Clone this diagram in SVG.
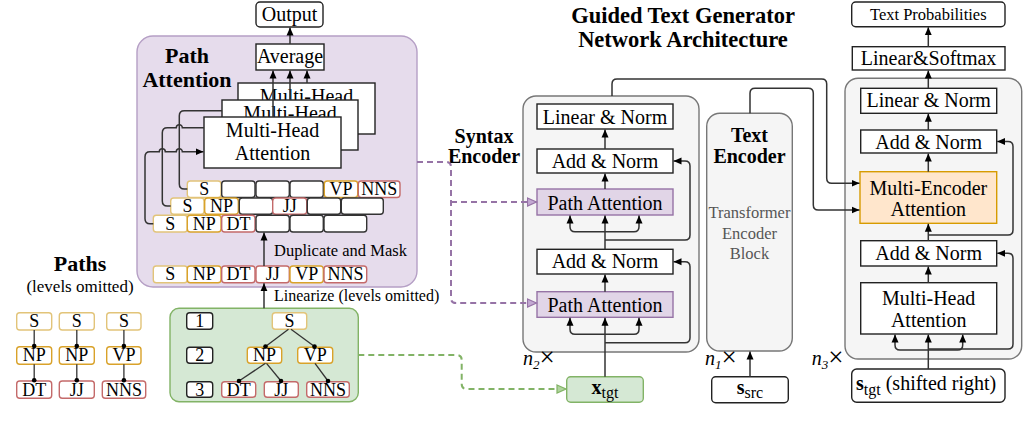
<svg xmlns="http://www.w3.org/2000/svg" width="1024" height="438" viewBox="0 0 1024 438">
<style>
text{font-family:"Liberation Serif","Times New Roman",serif;fill:#000}
.t{font-size:20px;text-anchor:middle}
.tk{font-size:18px;text-anchor:middle}
.sm{font-size:16.5px}
.b{font-weight:bold}
.wb{fill:#fff;stroke:#222;stroke-width:1.4}
.yS{fill:#fff;stroke:#e2c479;stroke-width:1.4}
.yN{fill:#fff;stroke:#d9a22a;stroke-width:1.4}
.rd{fill:#fff;stroke:#c46a6a;stroke-width:1.4}
.bl{fill:#fff;stroke:#333;stroke-width:1.4}
.pu{fill:#e1d5e7;stroke:#9673a6;stroke-width:1.4}
.gr{fill:#f5f5f5;stroke:#777;stroke-width:1.4}
.gn{fill:#d5e8d4;stroke:#82b366;stroke-width:1.4}
.or{fill:#ffe6cc;stroke:#d79b00;stroke-width:1.4}
.ln{fill:none;stroke:#333;stroke-width:1.5}
.la{fill:none;stroke:#333;stroke-width:1.5;marker-end:url(#ah)}
.ld{fill:none;stroke:#333;stroke-width:1.3;marker-end:url(#dot)}
.dp{fill:none;stroke:#9673a6;stroke-width:2;stroke-dasharray:6 4;marker-end:url(#ap)}
.dg{fill:none;stroke:#82b366;stroke-width:2;stroke-dasharray:6 4;marker-end:url(#ag)}
</style>
<defs>
<marker id="ah" markerUnits="userSpaceOnUse" markerWidth="9" markerHeight="8" refX="8" refY="4" orient="auto"><path d="M0,0.5 L8,4 L0,7.5 z" fill="#000"/></marker>
<marker id="ap" markerUnits="userSpaceOnUse" markerWidth="11" markerHeight="10" refX="10" refY="5" orient="auto"><path d="M1,1 L10,5 L1,9 z" fill="#c3a9d2" stroke="#9673a6" stroke-width="1.2"/></marker>
<marker id="ag" markerUnits="userSpaceOnUse" markerWidth="11" markerHeight="10" refX="10" refY="5" orient="auto"><path d="M1,1 L10,5 L1,9 z" fill="#b0d49e" stroke="#82b366" stroke-width="1.2"/></marker>
<marker id="dot" markerUnits="userSpaceOnUse" markerWidth="6" markerHeight="6" refX="3" refY="3"><circle cx="3" cy="3" r="2.3" fill="#000"/></marker>
</defs>

<!-- titles -->
<g id="title">
<text x="683" y="23" class="b" font-size="22.5" text-anchor="middle">Guided Text Generator</text>
<text x="683" y="47" class="b" font-size="22.5" text-anchor="middle">Network Architecture</text>
</g>

<!-- Path attention panel -->
<g id="path-attention">
<rect x="137" y="36" width="280" height="251" rx="16" fill="#e6dcec" stroke="#b59fc5" stroke-width="1.4"/>
<text x="187" y="63" class="b" font-size="22" text-anchor="middle">Path</text>
<text x="187" y="87" class="b" font-size="22" text-anchor="middle">Attention</text>
</g>
<g id="output"><rect x="256" y="2" width="67" height="25" rx="4" class="wb"/><text x="289.5" y="21" class="t">Output</text></g>
<g id="average"><rect x="256" y="44" width="68" height="26" class="wb"/><text x="290" y="63" class="t">Average</text></g>
<g id="mh-back"><rect x="238" y="83" width="137" height="51" class="wb"/><text x="306.5" y="103" class="t">Multi-Head</text></g>
<g id="mh-mid"><rect x="222" y="100" width="136" height="50" class="wb"/><text x="290" y="120" class="t">Multi-Head</text></g>
<g id="mh-front"><rect x="204" y="117" width="137" height="51" class="wb"/><text x="272.5" y="137" class="t">Multi-Head</text><text x="272.5" y="160" class="t">Attention</text></g>

<g id="row1">
<rect x="187.3" y="181" width="33.7" height="16.5" rx="3" class="yS"/><text x="204.2" y="195" class="tk">S</text>
<rect x="221.7" y="181" width="33.3" height="16.5" rx="3" class="bl"/>
<rect x="256" y="181" width="33.3" height="16.5" rx="3" class="bl"/>
<rect x="290" y="181" width="33.3" height="16.5" rx="3" class="bl"/>
<rect x="324.3" y="181" width="33.4" height="16.5" rx="3" class="yN"/><text x="341" y="195" class="tk">VP</text>
<rect x="358.3" y="181" width="41.7" height="16.5" rx="3" class="rd"/><text x="379.2" y="195" class="tk">NNS</text>
</g>
<g id="row2">
<rect x="170.7" y="198" width="33.3" height="16.3" rx="3" class="yS"/><text x="187.4" y="212" class="tk">S</text>
<rect x="204.7" y="198" width="33.6" height="16.3" rx="3" class="yN"/><text x="221.5" y="212" class="tk">NP</text>
<rect x="239.3" y="198" width="33.4" height="16.3" rx="3" class="bl"/>
<rect x="272.7" y="198" width="34" height="16.3" rx="3" class="rd"/><text x="289.7" y="212" class="tk">JJ</text>
<rect x="307.3" y="198" width="33.4" height="16.3" rx="3" class="bl"/>
<rect x="341.3" y="198" width="42" height="16.3" rx="3" class="bl"/>
</g>
<g id="row3">
<rect x="153.3" y="215.3" width="34" height="16.7" rx="3" class="yS"/><text x="170.3" y="229.5" class="tk">S</text>
<rect x="187.3" y="215.3" width="33.7" height="16.7" rx="3" class="yN"/><text x="204.2" y="229.5" class="tk">NP</text>
<rect x="221.7" y="215.3" width="33.3" height="16.7" rx="3" class="rd"/><text x="238.4" y="229.5" class="tk">DT</text>
<rect x="256" y="215.3" width="33.3" height="16.7" rx="3" class="bl"/>
<rect x="290" y="215.3" width="33.3" height="16.7" rx="3" class="bl"/>
<rect x="324" y="215.3" width="42.7" height="16.7" rx="3" class="bl"/>
</g>
<g id="linear-row">
<rect x="153.3" y="266" width="34" height="16.7" rx="3" class="yS"/><text x="170.3" y="280" class="tk">S</text>
<rect x="187.3" y="266" width="33.7" height="16.7" rx="3" class="yN"/><text x="204.2" y="280" class="tk">NP</text>
<rect x="221.7" y="266" width="33.3" height="16.7" rx="3" class="rd"/><text x="238.4" y="280" class="tk">DT</text>
<rect x="256" y="266" width="33.3" height="16.7" rx="3" class="rd"/><text x="272.7" y="280" class="tk">JJ</text>
<rect x="290" y="266" width="33.3" height="16.7" rx="3" class="yN"/><text x="306.7" y="280" class="tk">VP</text>
<rect x="324" y="266" width="42.7" height="16.7" rx="3" class="rd"/><text x="345.4" y="280" class="tk">NNS</text>
</g>
<g id="labels-pa">
<text x="274" y="255.5" class="sm">Duplicate and Mask</text>
<text x="274" y="300.5" font-size="16">Linearize (levels omitted)</text>
</g>

<!-- Paths legend -->
<g id="paths">
<text x="80" y="271" class="b" font-size="22" text-anchor="middle">Paths</text>
<text x="80" y="292" font-size="17" text-anchor="middle">(levels omitted)</text>
<rect x="16.7" y="312.7" width="35" height="17.3" rx="3" class="yS"/><text x="34.2" y="327" class="tk">S</text>
<rect x="16.7" y="346.7" width="35" height="17.6" rx="3" class="yN"/><text x="34.2" y="361" class="tk">NP</text>
<rect x="16.7" y="381" width="35" height="17.3" rx="3" class="rd"/><text x="34.2" y="395.5" class="tk">DT</text>
<rect x="59.3" y="312.7" width="35" height="17.3" rx="3" class="yS"/><text x="76.8" y="327" class="tk">S</text>
<rect x="59.3" y="346.7" width="35" height="17.6" rx="3" class="yN"/><text x="76.8" y="361" class="tk">NP</text>
<rect x="59.3" y="381" width="35" height="17.3" rx="3" class="rd"/><text x="76.8" y="395.5" class="tk">JJ</text>
<rect x="106.7" y="312.7" width="34.3" height="17.3" rx="3" class="yS"/><text x="123.9" y="327" class="tk">S</text>
<rect x="106.7" y="346.7" width="34.3" height="17.6" rx="3" class="yN"/><text x="123.9" y="361" class="tk">VP</text>
<rect x="102.3" y="381" width="43.4" height="17.3" rx="3" class="rd"/><text x="124" y="395.5" class="tk">NNS</text>
<path class="ld" d="M34.2,330 V346"/><path class="ld" d="M34.2,364.3 V380.3"/>
<path class="ld" d="M76.8,330 V346"/><path class="ld" d="M76.8,364.3 V380.3"/>
<path class="ld" d="M123.9,330 V346"/><path class="ld" d="M123.9,364.3 V380.3"/>
</g>

<!-- Tree -->
<g id="tree">
<rect x="170" y="308.3" width="188.3" height="93.4" rx="9" class="gn"/>
<rect x="186.7" y="312.7" width="26" height="16.6" rx="3" class="wb"/><text x="199.7" y="327" class="tk">1</text>
<rect x="186.7" y="347.3" width="26" height="16" rx="3" class="wb"/><text x="199.7" y="361.3" class="tk">2</text>
<rect x="186.7" y="381.7" width="26" height="15.6" rx="3" class="wb"/><text x="199.7" y="395.5" class="tk">3</text>
<rect x="272.3" y="312.7" width="34.4" height="16.6" rx="3" class="yS"/><text x="289.5" y="327" class="tk">S</text>
<rect x="247.3" y="347.3" width="34.4" height="16" rx="3" class="yN"/><text x="264.5" y="361.3" class="tk">NP</text>
<rect x="297.7" y="347.3" width="35" height="16" rx="3" class="yN"/><text x="315.2" y="361.3" class="tk">VP</text>
<rect x="221.7" y="381.7" width="34" height="15.6" rx="3" class="rd"/><text x="238.7" y="395.5" class="tk">DT</text>
<rect x="264.3" y="381.7" width="34" height="15.6" rx="3" class="rd"/><text x="281.3" y="395.5" class="tk">JJ</text>
<rect x="306.7" y="381.7" width="42.6" height="15.6" rx="3" class="rd"/><text x="328" y="395.5" class="tk">NNS</text>
<path class="ld" d="M288.5,329.3 L265.5,346.5"/><path class="ld" d="M291,329.3 L314.5,346.5"/>
<path class="ld" d="M265.5,363.3 L239,381"/><path class="ld" d="M266.5,363.3 L281,381"/>
<path class="ld" d="M315,363.3 L328,381"/>
</g>

<!-- Syntax encoder -->
<g id="syntax-encoder">
<rect x="523" y="96" width="176" height="256" rx="13" class="gr"/>
<text x="484" y="143" class="b" font-size="20" text-anchor="middle">Syntax</text>
<text x="484" y="163" class="b" font-size="20" text-anchor="middle">Encoder</text>
<text x="523" y="365" font-size="20" font-style="italic">n<tspan font-size="13" dy="4">2</tspan><tspan font-size="27" font-style="normal" dy="-3">×</tspan></text>
</g>
<g id="se-linear"><rect x="537" y="104" width="136" height="25" class="wb"/><text x="605" y="123.5" class="t">Linear &amp; Norm</text></g>
<g id="se-add1"><rect x="537" y="149" width="136" height="24" class="wb"/><text x="605" y="167.5" class="t">Add &amp; Norm</text></g>
<g id="se-pa1"><rect x="537" y="189" width="136" height="26" class="pu"/><text x="605" y="209.5" class="t">Path Attention</text></g>
<g id="se-add2"><rect x="537" y="249.3" width="136" height="24.7" class="wb"/><text x="605" y="268.3" class="t">Add &amp; Norm</text></g>
<g id="se-pa2"><rect x="537" y="291.7" width="136" height="25.6" class="pu"/><text x="605" y="311.5" class="t">Path Attention</text></g>
<g id="xtgt"><rect x="566.7" y="376.7" width="76.6" height="25.6" rx="4" class="gn"/><text x="605" y="394" class="t"><tspan font-weight="bold">x</tspan><tspan font-size="16" dy="4">tgt</tspan></text></g>

<!-- Text encoder -->
<g id="text-encoder">
<rect x="706.7" y="113.3" width="85.6" height="237.7" rx="13" class="gr"/>
<text x="749.5" y="142" class="b" font-size="20" text-anchor="middle">Text</text>
<text x="749.5" y="163" class="b" font-size="20" text-anchor="middle">Encoder</text>
<text x="749.5" y="218" font-size="16.5" text-anchor="middle" fill="#555" style="fill:#555">Transformer</text>
<text x="749.5" y="238.5" font-size="16.5" text-anchor="middle" style="fill:#555">Encoder</text>
<text x="749.5" y="258.5" font-size="16.5" text-anchor="middle" style="fill:#555">Block</text>
<text x="705" y="365" font-size="20" font-style="italic">n<tspan font-size="13" dy="4">1</tspan><tspan font-size="27" font-style="normal" dy="-3">×</tspan></text>
</g>
<g id="ssrc"><rect x="711.7" y="376.7" width="76.6" height="26" rx="4" class="wb"/><text x="750" y="394" class="t"><tspan font-weight="bold">s</tspan><tspan font-size="16" dy="4">src</tspan></text></g>

<!-- Decoder -->
<g id="decoder">
<rect x="845" y="78.3" width="176.7" height="280.7" rx="13" class="gr"/>
<text x="811.7" y="365" font-size="20" font-style="italic">n<tspan font-size="13" dy="4">3</tspan><tspan font-size="27" font-style="normal" dy="-3">×</tspan></text>
</g>
<g id="text-prob"><rect x="851.7" y="2" width="153.3" height="24.7" rx="4" class="wb"/><text x="928.3" y="20" font-size="16.5" text-anchor="middle">Text Probabilities</text></g>
<g id="linear-softmax"><rect x="852.3" y="46.7" width="152.7" height="23.3" class="wb"/><text x="928.6" y="65" class="t">Linear&amp;Softmax</text></g>
<g id="de-linear"><rect x="860.7" y="88.3" width="136" height="25" class="wb"/><text x="928.7" y="107" class="t">Linear &amp; Norm</text></g>
<g id="de-add1"><rect x="860.7" y="130" width="136" height="23" class="wb"/><text x="928.7" y="149" class="t">Add &amp; Norm</text></g>
<g id="multi-encoder"><rect x="860" y="171.7" width="136.7" height="51.6" class="or"/><text x="928.3" y="194.5" class="t">Multi-Encoder</text><text x="928.3" y="216" class="t">Attention</text></g>
<g id="de-add2"><rect x="860.7" y="240.7" width="136" height="25.3" class="wb"/><text x="928.7" y="260" class="t">Add &amp; Norm</text></g>
<g id="de-mha"><rect x="860.7" y="282.7" width="136" height="51.3" class="wb"/><text x="928.7" y="304.5" class="t">Multi-Head</text><text x="928.7" y="327" class="t">Attention</text></g>
<g id="stgt"><rect x="851.7" y="369" width="153.3" height="33.3" rx="5" class="wb"/><text x="856" y="390" font-size="20"><tspan font-weight="bold">s</tspan><tspan font-size="16" dy="5">tgt</tspan><tspan dy="-5"> (shifted right)</tspan></text></g>

<!-- Connectors -->
<g id="connectors">
<path class="la" d="M290,44 V27.5"/>
<path class="la" d="M273,117 V70.5"/>
<path class="la" d="M290,100 V70.5"/>
<path class="la" d="M307,83 V70.5"/>
<path class="la" d="M153.3,223.7 H150 Q145,223.7 145,218.7 V156.7 Q145,151.7 150,151.7 H159.3 a3,3 0 0 1 6,0 H176.3 a3,3 0 0 1 6,0 H203.5"/>
<path class="ln" d="M170.7,206 H167.3 Q162.3,206 162.3,201 V132.7 Q162.3,127.7 167.3,127.7 H176.3 a3,3 0 0 1 6,0 H204"/>
<path class="ln" d="M187.3,189 H184.3 Q179.3,189 179.3,184 V115.7 Q179.3,110.7 184.3,110.7 H222"/>
<path class="la" d="M264,266 V232.5"/>
<path class="la" d="M264,308.3 V283.2"/>
<path class="dp" d="M417,162 H446 Q451,162 451,167 V298 Q451,303 456,303 H536.5"/>
<path class="dp" d="M451,202 H536.5"/>
<path class="dg" d="M358.3,355 H456.7 Q461.7,355 461.7,360 V384 Q461.7,389 466.7,389 H566"/>
<!-- syntax encoder internals -->
<path class="la" d="M605,149 V129.5"/>
<path class="la" d="M605,189 V173.5"/>
<path class="la" d="M605,249.3 V215.5"/>
<path class="la" d="M605,231.7 H575 Q570,231.7 570,226.7 V215.5"/>
<path class="la" d="M605,231.7 H634 Q639,231.7 639,226.7 V215.5"/>
<path class="la" d="M605,240 H685 Q690,240 690,235 V166 Q690,161 685,161 H673.5"/>
<path class="la" d="M605,291.7 V274.5"/>
<path class="la" d="M605,376.7 V317.8"/>
<path class="la" d="M605,334.3 H575 Q570,334.3 570,329.3 V317.8"/>
<path class="la" d="M605,334.3 H634 Q639,334.3 639,329.3 V317.8"/>
<path class="la" d="M605,342.7 H685 Q690,342.7 690,337.7 V266.7 Q690,261.7 685,261.7 H673.5"/>
<!-- encoders to decoder -->
<path class="la" d="M612,96 V84 Q612,79 617,79 H821.7 Q826.7,79 826.7,84 V178.3 Q826.7,183.3 831.7,183.3 H859.5"/>
<path class="la" d="M750,113.3 V93.3 Q750,88.3 755,88.3 H808.3 Q813.3,88.3 813.3,93.3 V205 Q813.3,210 818.3,210 H859.5"/>
<path class="la" d="M750,376.7 V351.5"/>
<!-- decoder internals -->
<path class="la" d="M928.3,46.7 V27.2"/>
<path class="la" d="M928.3,88.3 V70.5"/>
<path class="la" d="M928.3,130 V113.8"/>
<path class="la" d="M928.3,171.7 V153.5"/>
<path class="la" d="M928.3,240.7 V223.8"/>
<path class="la" d="M928.3,235 H1008 Q1013,235 1013,230 V146.5 Q1013,141.5 1008,141.5 H997.2"/>
<path class="la" d="M928.3,282.7 V266.5"/>
<path class="la" d="M928.3,369 V334.5"/>
<path class="la" d="M928.3,350 H900 Q895,350 895,345 V334.5"/>
<path class="la" d="M928.3,350 H957.7 Q962.7,350 962.7,345 V334.5"/>
<path class="la" d="M928.3,349 H1008 Q1013,349 1013,344 V258.3 Q1013,253.3 1008,253.3 H997.2"/>
</g>
</svg>
